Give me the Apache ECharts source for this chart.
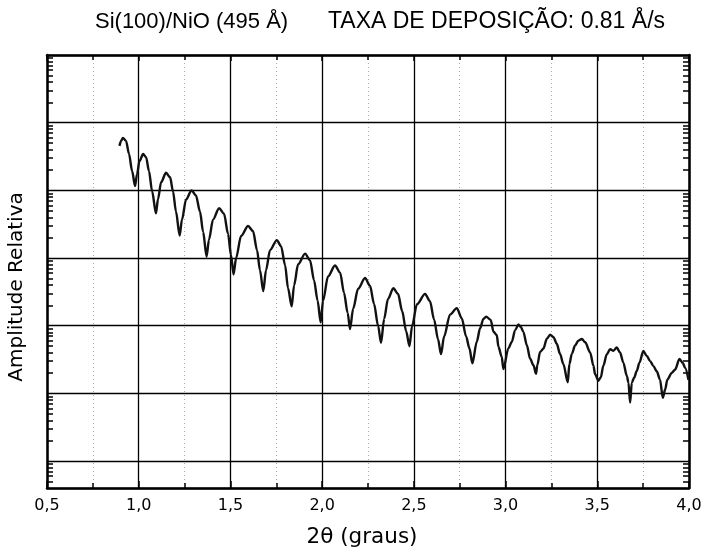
<!DOCTYPE html>
<html>
<head>
<meta charset="utf-8">
<script src="https://cdn.jsdelivr.net/npm/echarts@6/dist/echarts.min.js"></script>
<style>html,body{margin:0;padding:0;background:#fff;}#c{width:702px;height:549px;}</style>
</head>
<body>
<div id="c"></div>
<script>
const titleLeft = 'Si(100)/NiO (495 Å)';
const titleRight = 'TAXA DE DEPOSIÇÃO: 0.81 Å/s';
const xName = '2θ (graus)';
const yName = 'Amplitude Relativa';
const xMin = 0.5, xMax = 4.0, xStep = 0.5;
const yMin = 4, yMax = 1e7;

const twoTheta = [0.895,0.904,0.914,0.931,0.947,0.964,0.980,0.991,1.004,1.024,
1.040,1.056,1.073,1.094,1.105,1.122,1.149,1.171,1.187,1.203,
1.223,1.236,1.258,1.288,1.312,1.334,1.351,1.370,1.383,1.405,
1.438,1.465,1.487,1.503,1.517,1.531,1.558,1.596,1.623,1.645,
1.661,1.679,1.694,1.716,1.753,1.776,1.798,1.814,1.834,1.847,
1.869,1.907,1.934,1.956,1.975,1.992,2.005,2.032,2.070,2.098,
2.119,2.139,2.152,2.169,2.196,2.234,2.261,2.283,2.305,2.321,
2.338,2.359,2.388,2.414,2.436,2.458,2.476,2.490,2.517,2.561,
2.588,2.610,2.632,2.648,2.665,2.697,2.734,2.761,2.785,2.803,
2.819,2.843,2.861,2.879,2.894,2.919,2.934,2.952,2.961,2.979,
2.988,3.015,3.034,3.052,3.070,3.083,3.097,3.116,3.134,3.152,
3.166,3.173,3.188,3.206,3.225,3.243,3.261,3.279,3.297,3.315,
3.339,3.348,3.361,3.379,3.397,3.416,3.434,3.461,3.479,3.488,
3.506,3.519,3.533,3.552,3.570,3.588,3.606,3.624,3.642,3.661,
3.670,3.679,3.688,3.701,3.715,3.730,3.751,3.770,3.788,3.806,
3.824,3.842,3.857,3.870,3.882,3.906,3.924,3.948,3.966,3.979,3.997];

const amplitude = [454000,538000,596000,538000,345000,193000,116000,174000,271000,344000,
310000,192000,97000,45800,73800,132000,182000,156000,96700,48900,
21500,37100,73400,99700,83900,48600,24500,10460,18700,36900,
54500,45200,22800,11100,5720,10040,21200,29800,25100,13100,
6630,3240,6630,13100,18400,15000,7830,3570,1930,3950,
8080,11600,9240,4670,2360,1120,2350,5330,7750,6090,
3080,1550,891,1780,3520,5060,3890,2100,991,560,
1260,2490,3570,2940,1650,831,498,984,2080,2950,
2300,1240,628,380,695,1460,1820,1290,692,464,
278,582,915,1260,1360,1220,815,728,488,347,
228,460,577,860,1040,962,810,514,325,260,
195,260,408,456,642,735,679,540,383,272,
146,272,383,509,603,637,569,404,256,192,
154,172,256,380,450,426,476,401,285,181,
144,73,144,170,214,284,423,356,300,253,
213,160,86,114,160,201,224,323,282,237,159];

const seriesData = twoTheta.map((x, i) => [x, amplitude[i]]);

// log-spaced minor tick positions (in log10 space) for the side tick axes
const logMinor = [];
for (let n = 0; n <= 6; n++) {
  for (let k = 2; k <= 9; k++) {
    const v = Math.log10(k * Math.pow(10, n));
    if (v > Math.log10(yMin) && v < Math.log10(yMax)) logMinor.push(v);
  }
}

const FONT = 'DejaVu Sans';
const TFONT = 'Liberation Sans';
const chart = echarts.init(document.getElementById('c'), null, {renderer: 'canvas'});
const blackLine = {color: '#000', width: 2.5};
chart.setOption({
  backgroundColor: '#fff',
  animation: false,
  title: [
    {text: titleLeft, left: 90, top: 6, textStyle: {fontFamily: TFONT, fontSize: 22, fontWeight: 'normal', color: '#000'}},
    {text: titleRight, left: 323, top: 5.5, textStyle: {fontFamily: TFONT, fontSize: 23, fontWeight: 'normal', color: '#000'}}
  ],
  graphic: [{
    type: 'text', x: 17, y: 287, rotation: Math.PI / 2,
    style: {text: yName, fontFamily: FONT, fontSize: 20, fill: '#000', align: 'center', verticalAlign: 'middle'}
  }],
  grid: {left: 47, right: 13, top: 55, bottom: 61, containLabel: false, outerBoundsMode: 'none'},
  xAxis: [
    {
      type: 'value', min: xMin, max: xMax, interval: xStep, position: 'bottom',
      axisLine: {show: true, lineStyle: blackLine},
      axisTick: {show: true, inside: true, length: 7, lineStyle: {color: '#000', width: 1.5}},
      minorTick: {show: true, splitNumber: 2, length: 5, lineStyle: {color: '#000', width: 1.5}},
      axisLabel: {formatter: v => v.toFixed(1).replace('.', ','), fontFamily: FONT, fontSize: 16, color: '#000', margin: 10},
      splitLine: {show: true, lineStyle: {color: '#000', width: 1.3}},
      minorSplitLine: {show: true, lineStyle: {color: '#aaa', width: 1, type: [1, 3]}},
      name: xName, nameLocation: 'middle', nameGap: 38,
      nameTextStyle: {fontFamily: FONT, fontSize: 21.5, color: '#000', padding: [0, 12, 0, 0]}
    },
    {
      type: 'value', min: xMin, max: xMax, interval: xStep, position: 'top',
      axisLine: {show: true, lineStyle: blackLine},
      axisTick: {show: true, inside: true, length: 6, lineStyle: {color: '#000', width: 1.5}},
      minorTick: {show: true, splitNumber: 2, length: 5, lineStyle: {color: '#000', width: 1.5}},
      axisLabel: {show: false}, splitLine: {show: false}
    }
  ],
  yAxis: [
    {
      type: 'log', logBase: 10, min: yMin, max: yMax, position: 'left',
      axisLine: {show: true, lineStyle: blackLine},
      axisTick: {show: false}, axisLabel: {show: false},
      splitLine: {show: true, lineStyle: {color: '#000', width: 1.4}}
    },
    {
      type: 'value', min: Math.log10(yMin), max: Math.log10(yMax), position: 'left',
      axisLine: {show: false}, axisLabel: {show: false}, splitLine: {show: false},
      axisTick: {show: true, inside: true, length: 6, customValues: logMinor, lineStyle: {color: '#000', width: 1.5}}
    },
    {
      type: 'value', min: Math.log10(yMin), max: Math.log10(yMax), position: 'right',
      axisLine: {show: true, lineStyle: blackLine}, axisLabel: {show: false}, splitLine: {show: false},
      axisTick: {show: true, inside: true, length: 6, customValues: logMinor, lineStyle: {color: '#000', width: 1.5}}
    }
  ],
  series: [{
    type: 'line', xAxisIndex: 0, yAxisIndex: 0, data: seriesData,
    showSymbol: false, smooth: 0.3, smoothMonotone: 'x',
    lineStyle: {color: '#111', width: 2.4}
  }]
});
</script>
</body>
</html>
